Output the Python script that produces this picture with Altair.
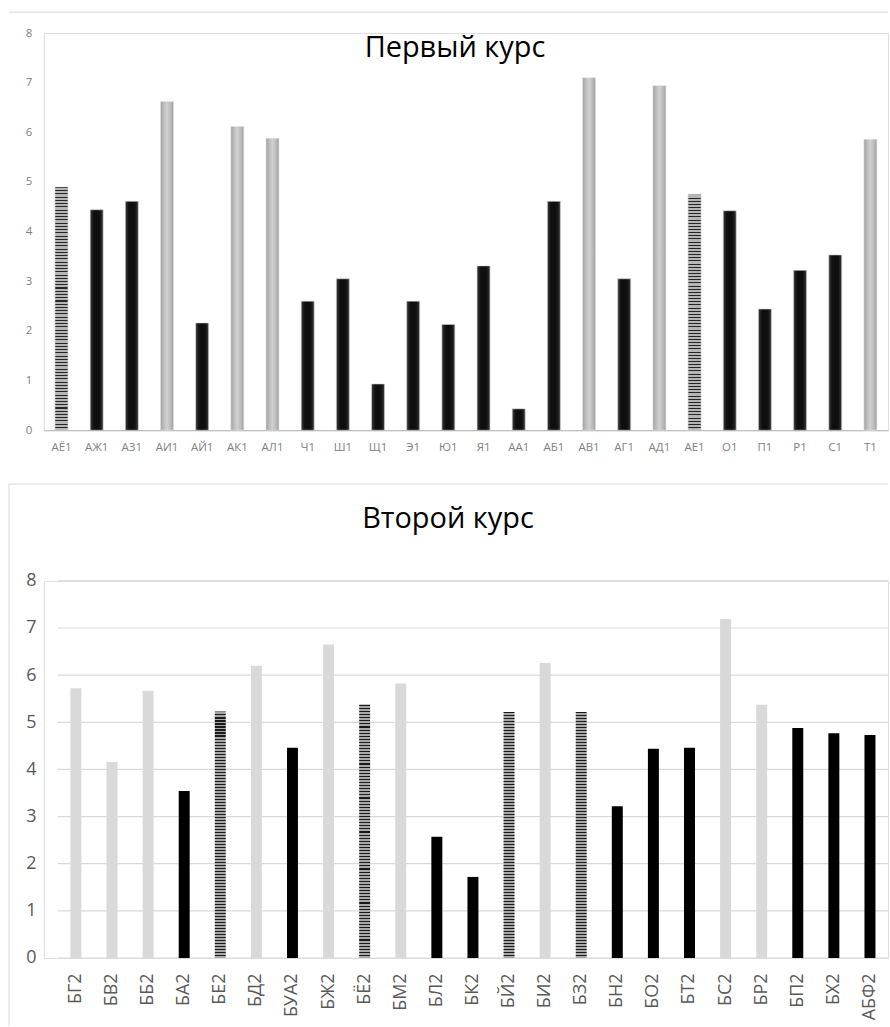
import altair as alt
import pandas as pd

# ---------------- data ----------------
title1 = "Первый курс"
cats1 = ["АЁ1", "АЖ1", "АЗ1", "АИ1", "АЙ1", "АК1", "АЛ1", "Ч1", "Ш1", "Щ1", "Э1", "Ю1",
         "Я1", "АА1", "АБ1", "АВ1", "АГ1", "АД1", "АЕ1", "О1", "П1", "Р1", "С1", "Т1"]
vals1 = [4.90, 4.44, 4.61, 6.62, 2.16, 6.12, 5.88, 2.60, 3.05, 0.93, 2.60, 2.13,
         3.31, 0.43, 4.61, 7.10, 3.05, 6.94, 4.75, 4.42, 2.44, 3.22, 3.53, 5.86]
style1 = ["s", "b", "b", "g", "b", "g", "g", "b", "b", "b", "b", "b",
          "b", "b", "b", "g", "b", "g", "s", "b", "b", "b", "b", "g"]

title2 = "Второй курс"
cats2 = ["БГ2", "БВ2", "ББ2", "БА2", "БЕ2", "БД2", "БУА2", "БЖ2", "БЁ2", "БМ2", "БЛ2", "БК2",
         "БЙ2", "БИ2", "БЗ2", "БН2", "БО2", "БТ2", "БС2", "БР2", "БП2", "БХ2", "АБФ2"]
vals2 = [5.72, 4.16, 5.67, 3.54, 5.23, 6.20, 4.46, 6.65, 5.37, 5.82, 2.57, 1.72,
         5.22, 6.26, 5.22, 3.22, 4.44, 4.46, 7.19, 5.37, 4.88, 4.77, 4.73]
style2 = ["g", "g", "g", "b", "s", "g", "b", "g", "s", "g", "b", "b",
          "s", "g", "s", "b", "b", "b", "g", "g", "b", "b", "b"]

y_ticks = [0, 1, 2, 3, 4, 5, 6, 7, 8]

df1 = pd.DataFrame({"cat": cats1, "val": vals1, "style": style1})
df2 = pd.DataFrame({"cat": cats2, "val": vals2, "style": style2})

FONT = "Open Sans"
W = 846


def stripes(n, dark, light, frac=0.32):
    stops = []
    for k in range(n):
        a = k / n
        m = (k + frac) / n
        b = (k + 1) / n
        stops += [alt.GradientStop(offset=a, color=dark),
                  alt.GradientStop(offset=m, color=dark),
                  alt.GradientStop(offset=m, color=light),
                  alt.GradientStop(offset=b, color=light)]
    return alt.LinearGradient(gradient="linear", stops=stops, x1=0, x2=0, y1=0, y2=1)


def hgrad(cols):
    n = len(cols) - 1
    return alt.LinearGradient(
        gradient="linear",
        stops=[alt.GradientStop(offset=i / n, color=c) for i, c in enumerate(cols)],
        x1=0, x2=1, y1=0, y2=0)


# ---------------- top chart ----------------
ysc1 = alt.Scale(domain=[0, 8], nice=False)
xsc1 = alt.Scale(domain=cats1, paddingInner=0, paddingOuter=0)

x1 = alt.X("cat:N", sort=cats1, scale=xsc1, title=None,
           axis=alt.Axis(labelAngle=0, labelFontSize=11.5, labelColor="#7f7f7f", labelFont=FONT,
                         labelPadding=11, ticks=False, domainColor="#bfbfbf", domainWidth=1.2,
                         grid=False))
y1 = alt.Y("val:Q", scale=ysc1, title=None,
           axis=alt.Axis(values=y_ticks, labelFontSize=11.5, labelColor="#7f7f7f", labelFont=FONT,
                         labelPadding=12, ticks=False, domain=False, grid=False))

base1 = alt.Chart(df1)
black1 = base1.transform_filter(alt.datum.style == "b").mark_bar(
    width=13, color=hgrad(["#3c3c3c", "#121212", "#0d0d0d", "#121212", "#3c3c3c"]),
    stroke="#d0d0d0", strokeWidth=0.6).encode(x=x1, y=y1)
gray1 = base1.transform_filter(alt.datum.style == "g").mark_bar(
    width=13, color=hgrad(["#a0a0a0", "#bdbdbd", "#d0d0d0", "#bdbdbd", "#a0a0a0"]),
    stroke="#e0e0e0", strokeWidth=0.6).encode(x=x1, y=y1)
strip1 = base1.transform_filter(alt.datum.style == "s").mark_bar(
    width=13, color=stripes(75, "#262626", "#b5b5b5"),
    stroke="#d0d0d0", strokeWidth=0.6).encode(x=x1, y=y1)

one = pd.DataFrame({"t": [title1]})
frame1 = alt.Chart(one).mark_rule(color="#d9d9d9", strokeWidth=1).encode(
    x=alt.value(-35), x2=alt.value(W), y=alt.value(-21))
ttl1 = alt.Chart(one).mark_text(font=FONT, fontSize=29, color="#000000",
                                align="center", baseline="alphabetic").encode(
    text="t:N", x=alt.value(412), y=alt.value(24))

top = alt.layer(frame1, black1, gray1, strip1, ttl1).properties(width=W, height=398)

# ---------------- bottom chart ----------------
ysc2 = alt.Scale(domain=[0, 8], nice=False)
xsc2 = alt.Scale(domain=cats2, range=[14, W], paddingInner=0, paddingOuter=0)
yaxis2 = alt.Axis(values=y_ticks, labelFontSize=18, labelColor="#595959", labelFont=FONT,
                  labelPadding=8, ticks=False, domain=False, grid=False)

x2 = alt.X("cat:N", sort=cats2, scale=xsc2, title=None,
           axis=alt.Axis(labelAngle=-90, labelFontSize=18, labelColor="#595959", labelFont=FONT,
                         labelPadding=15, ticks=False, domain=False, grid=False))
y2 = alt.Y("val:Q", scale=ysc2, title=None, axis=yaxis2)

grid2 = alt.Chart(pd.DataFrame({"v": y_ticks})).mark_rule(color="#d9d9d9", strokeWidth=1.2).encode(
    y=alt.Y("v:Q", scale=ysc2, title=None, axis=yaxis2), x=alt.value(14), x2=alt.value(W))

base2 = alt.Chart(df2)
black2 = base2.transform_filter(alt.datum.style == "b").mark_bar(
    width=11, color="#000000").encode(x=x2, y=y2)
gray2 = base2.transform_filter(alt.datum.style == "g").mark_bar(
    width=11, color="#d9d9d9").encode(x=x2, y=y2)
strip2 = base2.transform_filter(alt.datum.style == "s").mark_bar(
    width=11, color=stripes(82, "#1a1a1a", "#a8a8a8", 0.35)).encode(x=x2, y=y2)

one2 = pd.DataFrame({"t": [title2]})
frame2a = alt.Chart(one2).mark_rule(color="#d9d9d9", strokeWidth=1).encode(
    x=alt.value(-35), x2=alt.value(W), y=alt.value(-97))
frame2b = alt.Chart(one2).mark_rule(color="#d9d9d9", strokeWidth=1).encode(
    x=alt.value(-35), y=alt.value(-97), y2=alt.value(446))
ttl2 = alt.Chart(one2).mark_text(font=FONT, fontSize=29, color="#000000",
                                 align="center", baseline="alphabetic").encode(
    text="t:N", x=alt.value(405), y=alt.value(-53))

bottom = alt.layer(grid2, frame2a, frame2b, black2, gray2, strip2, ttl2).properties(width=W, height=378)

chart = alt.vconcat(top, bottom, spacing=30).properties(
    padding={"left": 8, "top": 10, "right": 0, "bottom": 0}
).configure_view(stroke=None).configure(font=FONT, background="white")

chart.save("out.html", embed_options={"renderer": "svg", "actions": False})
